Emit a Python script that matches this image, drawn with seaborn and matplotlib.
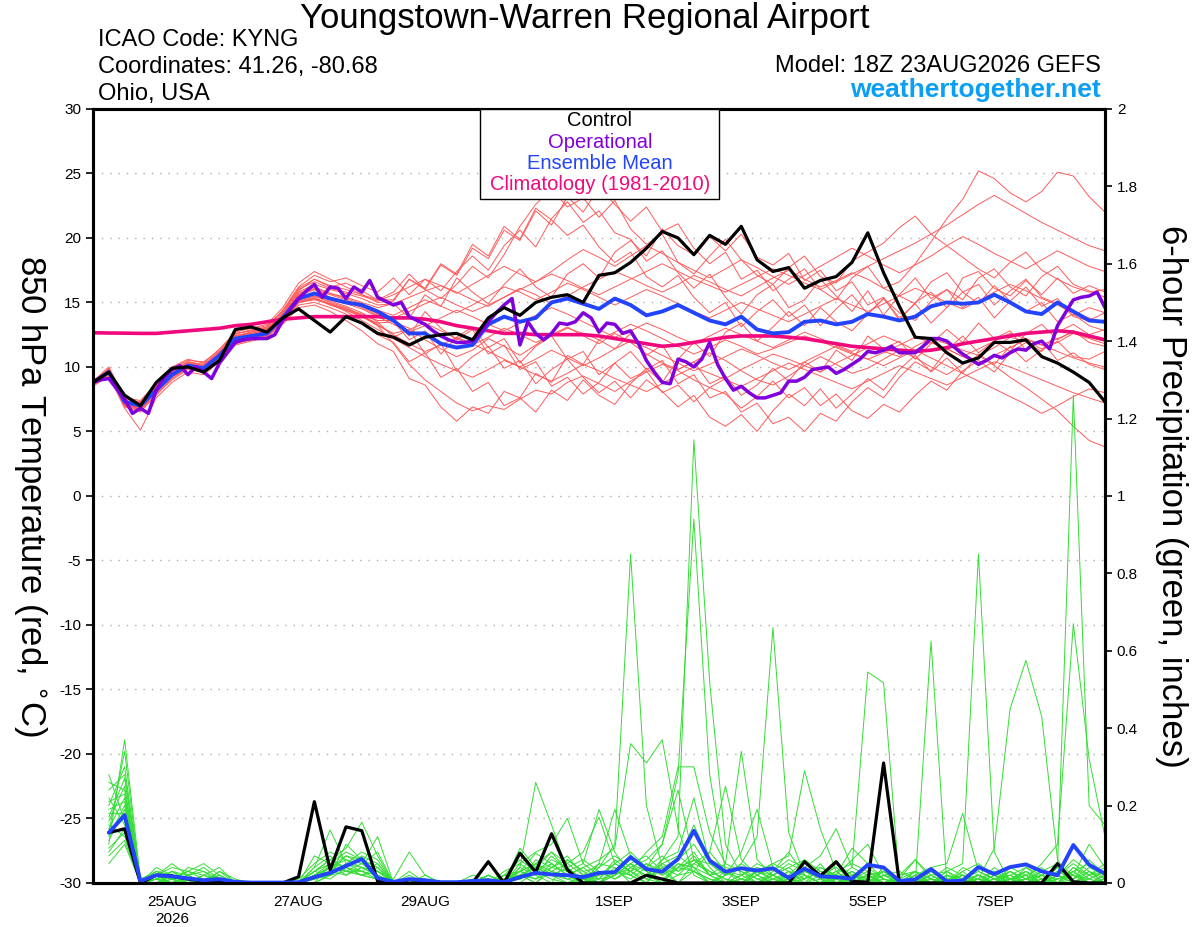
import numpy as np
import pandas as pd
import seaborn as sns
import matplotlib.pyplot as plt
from matplotlib.patches import Rectangle

# time axes
t_start = "2026-08-23 18:00"
temp_times = pd.date_range(t_start, periods=65, freq="6h")
oper_times = pd.date_range(t_start, periods=129, freq="3h")
precip_times = pd.date_range("2026-08-24 00:00", periods=64, freq="6h")

# 850 hPa temperature, control run (6-hourly)
control_temp = [8.8, 9.6, 7.8, 7.0, 8.8, 9.9, 10.0, 9.6, 10.5, 12.9, 13.1, 12.7, 13.8,
                14.5, 13.6, 12.7, 13.9, 13.4, 12.6, 12.3, 11.7, 12.3, 12.5, 12.6, 12.1,
                13.8, 14.6, 14.0, 15.0, 15.4, 15.6, 15.0, 17.1, 17.3, 18.1, 19.2, 20.5,
                20.0, 18.7, 20.2, 19.5, 20.9, 18.3, 17.4, 17.7, 16.1, 16.7, 17.0, 18.1,
                20.4, 17.3, 14.7, 12.3, 12.2, 11.1, 10.3, 10.7, 11.9, 11.9, 12.1, 10.8,
                10.3, 9.6, 8.8, 7.3]

# operational run (3-hourly)
oper_temp = [8.8, 9.0, 9.1, 8.3, 7.5, 6.4, 6.8, 6.4, 8.2, 9.2, 9.8, 10.1, 9.4, 10.0,
             9.6, 9.1, 10.3, 11.1, 11.9, 12.1, 12.2, 12.2, 12.2, 12.5, 13.6, 14.5, 15.3,
             15.9, 16.4, 15.4, 16.2, 16.1, 15.3, 16.2, 15.8, 16.7, 15.4, 15.1, 14.8, 15.0,
             13.9, 13.6, 13.3, 12.8, 12.4, 12.1, 11.9, 11.9, 12.0, 12.6, 13.5, 14.2, 14.8,
             15.3, 11.7, 13.5, 12.6, 12.1, 12.6, 13.4, 13.3, 13.5, 14.2, 13.8, 12.7, 13.4,
             13.3, 12.6, 12.8, 11.8, 10.5, 9.6, 8.8, 8.7, 10.6, 10.4, 10.0, 10.6, 11.9,
             10.2, 9.1, 8.2, 8.5, 8.0, 7.6, 7.6, 7.8, 8.0, 8.9, 8.9, 9.2, 9.8, 9.9, 10.0,
             9.5, 9.8, 10.2, 10.6, 11.2, 11.1, 11.3, 11.6, 11.1, 11.1, 11.1, 11.6, 12.2,
             12.2, 12.0, 11.5, 11.0, 10.6, 10.2, 10.5, 10.9, 10.7, 11.1, 11.4, 11.3, 11.8,
             12.0, 11.4, 13.2, 14.2, 15.2, 15.4, 15.5, 15.8, 14.6]

# ensemble mean (6-hourly)
mean_temp = [8.8, 9.6, 7.3, 7.0, 8.2, 9.4, 10.1, 9.9, 10.9, 12.2, 12.4, 12.6, 13.8, 15.3,
             15.7, 15.3, 15.0, 14.8, 14.3, 13.6, 12.6, 12.6, 11.8, 11.5, 11.7, 13.3, 13.9,
             13.5, 13.8, 15.0, 15.3, 14.9, 14.5, 15.3, 14.8, 14.0, 14.3, 14.8, 14.2, 13.6,
             13.3, 13.9, 12.9, 12.6, 12.7, 13.5, 13.6, 13.3, 13.5, 14.1, 13.9, 13.6, 13.9,
             14.7, 15.0, 14.9, 15.0, 15.6, 15.0, 14.3, 14.1, 15.0, 14.3, 13.6, 13.5]

# climatology 1981-2010
clim_temp = [12.65, 12.63, 12.62, 12.6, 12.6, 12.7, 12.8, 12.9, 13.0, 13.2, 13.3, 13.5,
             13.7, 13.8, 13.9, 13.9, 13.9, 13.9, 13.9, 13.8, 13.8, 13.7, 13.5, 13.2, 13.0,
             12.8, 12.6, 12.6, 12.5, 12.5, 12.5, 12.5, 12.4, 12.2, 12.0, 11.8, 11.6, 11.7,
             11.9, 12.1, 12.3, 12.4, 12.4, 12.4, 12.3, 12.2, 12.0, 11.8, 11.6, 11.5, 11.4,
             11.3, 11.2, 11.3, 11.5, 11.8, 12.0, 12.2, 12.4, 12.6, 12.7, 12.8, 12.7, 12.4,
             12.1]

# ensemble members, temperature
members_temp = [
    [8.6, 9.8, 7.0, 6.8, 8.0, 9.2, 10.3, 10.2, 11.2, 12.0, 12.3, 12.9, 14.2, 15.9, 16.8, 16.2, 16.5, 15.9, 15.2, 15.8, 17.2, 16.0, 15.3, 16.4, 17.8, 16.9, 18.7, 20.9, 22.6, 23.8, 22.4, 23.1, 21.6, 22.9, 20.7, 19.5, 20.3, 18.1, 17.2, 18.6, 19.9, 18.3, 17.1, 16.4, 17.7, 18.6, 17.0, 16.5, 18.2, 18.9, 19.6, 20.8, 21.7, 20.3, 19.4, 18.5, 17.6, 16.9, 18.1, 18.9, 17.5, 16.8, 16.2, 15.8, 16.0],
    [8.9, 9.5, 6.9, 6.5, 7.9, 9.0, 9.8, 9.6, 10.5, 11.8, 12.1, 12.4, 13.4, 15.0, 15.2, 14.9, 14.5, 14.0, 13.2, 11.8, 10.2, 9.0, 8.1, 7.2, 6.6, 7.0, 6.7, 7.5, 8.2, 7.9, 8.8, 9.3, 8.7, 8.1, 8.9, 9.6, 10.2, 9.7, 9.0, 8.4, 9.1, 9.8, 10.4, 11.0, 10.6, 10.1, 9.6, 10.3, 10.9, 11.5, 11.2, 10.8, 11.6, 12.2, 11.8, 11.3, 10.9, 11.5, 12.3, 12.0, 11.4, 11.9, 12.6, 12.2, 11.8],
    [8.7, 9.7, 7.2, 7.1, 8.4, 9.6, 10.0, 9.8, 10.7, 12.3, 12.6, 12.8, 13.9, 15.6, 16.0, 15.4, 15.1, 14.6, 14.0, 13.5, 13.0, 12.1, 11.4, 10.8, 11.3, 12.2, 11.6, 10.9, 11.7, 12.5, 13.1, 12.4, 11.8, 12.6, 11.9, 11.0, 10.3, 9.8, 10.4, 11.1, 10.5, 9.7, 9.0, 8.6, 9.3, 10.1, 10.8, 10.2, 9.5, 9.9, 10.6, 11.3, 10.7, 10.0, 9.4, 10.2, 10.9, 10.1, 9.2, 8.4, 7.5, 6.6, 5.4, 4.3, 3.8],
    [8.8, 9.9, 7.5, 7.3, 8.6, 9.9, 10.5, 10.4, 11.3, 12.6, 12.8, 13.0, 14.1, 15.8, 16.4, 16.0, 15.7, 15.3, 14.8, 14.9, 15.4, 15.9, 16.3, 15.8, 15.2, 14.7, 15.4, 16.1, 15.6, 14.9, 15.5, 16.2, 16.8, 17.4, 16.9, 16.3, 15.8, 16.4, 17.1, 16.6, 16.0, 15.5, 16.2, 16.9, 17.5, 16.8, 16.2, 16.7, 17.3, 16.8, 16.1, 16.6, 18.0, 19.7, 21.5, 23.0, 25.2, 24.6, 23.5, 22.8, 23.6, 25.1, 24.8, 23.2, 22.0],
    [8.6, 9.4, 7.0, 6.6, 7.8, 9.1, 9.9, 9.7, 10.6, 11.9, 12.2, 12.5, 13.6, 15.2, 15.5, 15.1, 14.7, 14.2, 13.5, 12.3, 12.9, 11.0, 11.8, 9.7, 10.8, 11.6, 9.9, 10.5, 8.7, 9.8, 10.6, 9.2, 8.0, 8.9, 7.6, 9.0, 8.1, 6.9, 7.8, 6.1, 5.4, 6.3, 5.0, 6.6, 7.9, 7.0, 8.3, 6.8, 7.9, 9.1, 8.2, 9.8, 10.9, 9.6, 10.7, 9.5, 11.0, 10.2, 11.6, 10.4, 11.3, 12.0, 10.8, 10.6, 11.2],
    [8.9, 9.8, 7.4, 7.0, 8.3, 9.5, 10.4, 10.0, 11.0, 12.4, 12.7, 13.1, 14.4, 16.2, 17.1, 16.6, 16.9, 16.3, 15.8, 16.9, 15.6, 16.8, 15.9, 17.4, 18.6, 17.5, 19.4, 20.6, 19.3, 21.5, 22.8, 21.2, 22.1, 20.4, 19.9, 18.2, 19.0, 17.3, 16.1, 17.2, 15.4, 14.1, 15.6, 16.4, 14.6, 15.2, 16.8, 15.5, 14.3, 15.9, 14.0, 15.6, 16.9, 15.3, 16.0, 14.6, 15.4, 13.8, 15.1, 16.2, 14.7, 15.3, 13.9, 13.6, 14.2],
    [8.7, 9.5, 7.1, 6.9, 8.1, 9.3, 10.0, 9.8, 10.8, 12.1, 12.3, 12.5, 13.7, 15.1, 15.4, 14.8, 14.4, 13.9, 13.2, 12.6, 12.9, 13.4, 12.8, 12.2, 11.7, 12.3, 13.0, 12.5, 11.9, 12.4, 13.0, 12.6, 12.1, 12.7, 13.3, 12.8, 12.2, 11.6, 11.0, 11.5, 12.1, 11.6, 11.0, 11.4, 11.9, 12.4, 12.0, 11.5, 11.0, 10.6, 11.1, 11.7, 12.3, 11.9, 11.4, 10.8, 10.3, 10.9, 11.5, 12.1, 11.7, 11.2, 10.7, 10.3, 10.0],
    [8.8, 9.7, 7.3, 7.2, 8.5, 9.7, 10.2, 10.1, 11.1, 12.5, 12.9, 13.2, 14.3, 16.0, 16.6, 16.1, 15.8, 15.5, 15.1, 15.6, 16.2, 16.8, 16.3, 15.7, 16.4, 17.1, 17.8, 17.2, 16.6, 17.4, 18.3, 19.1, 18.5, 17.8, 18.6, 19.4, 18.8, 18.1, 17.5, 16.9, 17.6, 18.3, 17.7, 17.0, 16.4, 17.1, 17.8, 18.5, 19.2, 18.6, 17.9, 17.3, 17.9, 18.6, 19.4, 20.1, 19.5, 18.8, 18.2, 17.6, 18.3, 19.0, 18.4, 17.8, 17.4],
    [8.6, 9.6, 7.0, 6.7, 8.0, 9.2, 10.0, 9.9, 10.8, 12.0, 12.2, 12.4, 13.5, 14.8, 15.0, 14.6, 14.1, 13.4, 12.5, 11.9, 10.4, 11.1, 9.2, 9.9, 8.1, 8.8, 7.0, 7.6, 6.5, 8.2, 7.4, 9.0, 7.8, 7.1, 8.7, 9.9, 8.8, 10.6, 11.9, 10.8, 12.7, 13.4, 12.0, 13.1, 14.3, 13.2, 14.6, 13.5, 12.8, 14.1, 15.3, 14.2, 13.6, 15.1, 16.0, 15.2, 16.9, 17.6, 16.2, 15.5, 17.0, 17.8, 16.4, 15.9, 15.4],
    [8.9, 10.0, 7.6, 7.4, 8.7, 10.0, 10.6, 10.3, 11.4, 12.7, 13.0, 13.3, 14.6, 16.5, 17.4, 16.8, 16.2, 15.6, 15.0, 15.1, 16.8, 16.0, 17.9, 17.1, 19.2, 18.4, 20.6, 19.8, 22.1, 21.0, 23.2, 22.0, 23.9, 22.6, 21.3, 22.4, 20.5, 21.1, 19.2, 18.0, 18.9, 16.8, 17.5, 15.9, 16.8, 17.6, 16.0, 15.2, 16.9, 17.8, 16.1, 15.5, 14.9, 16.6, 17.3, 15.8, 16.4, 14.8, 15.9, 16.8, 15.4, 14.9, 14.0, 14.6, 14.2],
    [8.7, 9.6, 7.2, 6.8, 8.2, 9.4, 10.1, 9.7, 10.7, 12.0, 12.3, 12.6, 13.6, 15.0, 15.3, 14.9, 14.3, 13.6, 12.9, 12.2, 11.5, 10.8, 10.2, 9.7, 9.2, 9.8, 10.5, 10.0, 9.4, 8.9, 9.5, 10.2, 9.7, 9.1, 8.6, 8.1, 8.7, 9.4, 10.0, 9.5, 9.0, 8.5, 9.1, 9.7, 10.3, 9.8, 9.3, 8.8, 8.3, 8.9, 9.5, 10.1, 9.6, 9.1, 8.6, 9.2, 9.8, 10.4, 10.0, 9.5, 9.0, 8.5, 8.0, 7.6, 7.2],
    [8.8, 9.7, 7.4, 7.1, 8.4, 9.6, 10.3, 10.1, 11.0, 12.4, 12.6, 12.9, 14.0, 15.7, 16.2, 15.7, 15.3, 14.9, 14.4, 14.0, 14.6, 15.2, 14.7, 14.2, 14.8, 15.5, 16.2, 15.8, 15.2, 15.8, 16.5, 16.0, 15.4, 14.8, 15.4, 16.0, 15.5, 14.9, 14.3, 13.8, 14.4, 15.0, 14.5, 14.0, 13.5, 14.1, 14.7, 15.3, 14.8, 14.3, 14.9, 15.5, 16.1, 15.6, 15.0, 14.5, 15.1, 15.8, 16.4, 15.9, 15.3, 14.8, 14.2, 13.8, 13.4],
    [8.5, 9.3, 6.8, 5.1, 7.6, 8.8, 9.6, 9.4, 10.4, 11.7, 12.0, 12.3, 13.3, 14.6, 14.8, 14.3, 13.6, 12.8, 11.8, 11.2, 9.1, 8.6, 6.9, 5.8, 6.9, 6.4, 8.1, 7.6, 9.5, 8.8, 10.9, 10.2, 12.1, 11.4, 12.6, 10.9, 11.7, 9.8, 10.4, 8.7, 9.3, 7.8, 8.6, 9.9, 8.9, 10.4, 9.6, 11.3, 10.5, 12.4, 11.4, 12.0, 10.6, 11.8, 12.9, 11.9, 13.4, 12.2, 12.8, 11.3, 12.0, 10.5, 11.1, 10.2, 9.8],
    [8.7, 9.8, 7.3, 7.0, 8.3, 9.5, 10.2, 10.0, 10.9, 12.3, 12.5, 12.8, 14.0, 15.5, 16.0, 15.6, 15.2, 14.7, 14.1, 13.8, 14.3, 14.9, 15.4, 14.8, 14.3, 14.8, 15.4, 16.0, 16.6, 17.2, 16.7, 16.1, 15.6, 16.2, 16.8, 17.4, 18.0, 17.4, 16.8, 16.3, 15.8, 16.4, 17.0, 17.6, 17.1, 16.5, 16.0, 16.6, 17.2, 17.8, 18.4, 19.0, 19.6, 20.3, 21.0, 21.8, 22.6, 23.3, 22.6, 21.9, 21.2, 20.6, 20.0, 19.4, 19.0],
    [8.8, 9.6, 7.2, 7.0, 8.2, 9.3, 10.0, 9.9, 10.8, 12.2, 12.4, 12.7, 13.8, 15.3, 15.6, 15.2, 14.9, 14.5, 13.9, 13.3, 12.7, 13.2, 13.8, 14.4, 13.9, 13.3, 12.8, 13.4, 14.0, 14.6, 14.1, 13.5, 12.9, 12.3, 12.8, 13.4, 12.9, 12.3, 11.8, 12.4, 13.0, 12.5, 12.0, 11.5, 12.1, 12.7, 12.2, 11.7, 11.2, 11.8, 12.4, 11.9, 11.3, 10.7, 10.1, 9.5, 8.9, 8.3, 7.7, 7.1, 6.4, 7.0, 7.7, 8.3, 8.0],
    [8.6, 9.5, 7.0, 6.7, 8.0, 9.2, 9.9, 9.6, 10.6, 11.9, 12.1, 12.4, 13.5, 15.0, 15.3, 14.8, 14.4, 13.9, 13.4, 13.5, 12.1, 12.8, 11.0, 12.3, 13.1, 11.5, 12.2, 10.3, 11.6, 12.4, 10.6, 11.2, 9.4, 10.3, 11.2, 9.8, 10.5, 8.7, 9.4, 7.6, 8.1, 6.5, 7.2, 5.6, 6.1, 5.0, 6.4, 5.8, 7.3, 8.4, 7.6, 9.2, 10.4, 9.7, 11.3, 12.4, 11.1, 12.0, 11.2, 12.6, 13.3, 12.1, 12.8, 11.9, 11.6],
    [8.8, 9.8, 7.4, 7.2, 8.5, 9.8, 10.4, 10.2, 11.2, 12.6, 12.8, 13.1, 14.3, 16.1, 16.8, 16.3, 16.0, 15.6, 15.2, 15.2, 16.8, 16.1, 18.0, 17.2, 19.5, 18.6, 20.9, 19.9, 22.3, 21.4, 20.2, 21.0, 19.3, 18.1, 18.9, 17.0, 16.2, 17.1, 15.4, 14.2, 15.0, 13.1, 14.3, 15.2, 13.9, 14.8, 13.2, 14.5, 15.6, 14.1, 15.3, 13.8, 14.9, 13.4, 14.6, 15.8, 14.9, 16.3, 15.1, 14.3, 15.0, 13.5, 14.1, 13.2, 12.8],
    [8.7, 9.4, 7.1, 6.8, 8.1, 9.3, 10.1, 9.8, 10.8, 12.1, 12.4, 12.6, 13.7, 15.2, 15.5, 15.0, 14.6, 14.0, 13.3, 12.5, 11.8, 11.2, 11.7, 12.3, 11.8, 11.2, 10.6, 10.0, 10.6, 11.3, 10.7, 10.1, 10.7, 11.4, 12.0, 11.5, 10.9, 10.3, 9.7, 10.2, 10.8, 11.4, 10.9, 10.3, 9.8, 10.4, 11.0, 11.6, 11.1, 10.6, 10.1, 10.7, 11.3, 11.9, 11.4, 10.8, 11.4, 12.0, 12.6, 12.2, 11.7, 12.2, 12.7, 12.3, 12.0],
    [8.8, 9.7, 7.3, 7.0, 8.4, 9.6, 10.2, 10.0, 11.0, 12.4, 12.7, 12.9, 14.1, 15.6, 16.1, 15.7, 15.4, 15.0, 14.6, 14.9, 13.8, 15.6, 14.7, 16.9, 15.8, 14.9, 16.4, 17.6, 16.2, 15.4, 17.2, 18.0, 16.9, 18.9, 19.8, 18.6, 20.7, 19.4, 18.7, 20.1, 19.0, 20.3, 18.5, 17.9, 18.8, 16.7, 17.5, 15.9, 16.6, 14.8, 15.4, 13.6, 15.0, 15.8, 14.6, 16.9, 17.4, 16.1, 15.5, 16.7, 15.6, 16.9, 15.7, 16.3, 15.8],
    [8.6, 9.5, 7.1, 6.9, 8.1, 9.3, 9.9, 9.7, 10.7, 12.0, 12.2, 12.5, 13.6, 15.1, 15.3, 14.9, 14.5, 14.1, 13.6, 13.6, 12.4, 14.3, 13.0, 12.1, 12.9, 11.0, 11.7, 9.8, 10.4, 8.5, 9.2, 7.9, 8.8, 10.3, 9.1, 9.7, 8.0, 8.6, 7.3, 8.4, 7.9, 6.8, 7.7, 8.9, 7.6, 8.4, 7.0, 7.9, 6.6, 6.0, 7.1, 6.5, 7.8, 8.9, 8.2, 9.7, 10.5, 9.6, 11.1, 11.9, 11.2, 12.7, 13.3, 12.5, 12.9],
]

# 6-hour precipitation, control and ensemble mean (inches)
control_precip = [0.13, 0.14, 0.0, 0.02, 0.018, 0.01, 0.005, 0.003,
                  0.0, 0.0, 0.0, 0.0, 0.016, 0.21, 0.034, 0.145,
                  0.135, 0.005, 0.0, 0.008, 0.006, 0.0, 0.0, 0.0,
                  0.055, 0.0, 0.077, 0.028, 0.127, 0.034, 0.0, 0.0,
                  0.0, 0.0, 0.02, 0.01, 0.0, 0.0, 0.0, 0.0,
                  0.0, 0.0, 0.0, 0.0, 0.055, 0.018, 0.055, 0.004,
                  0.002, 0.31, 0.0, 0.0, 0.0, 0.0, 0.0, 0.0,
                  0.0, 0.0, 0.0, 0.0, 0.05, 0.003, 0.0, 0.0]
mean_precip = [0.13, 0.175, 0.005, 0.02, 0.017, 0.012, 0.007, 0.01,
               0.003, 0.001, 0.001, 0.001, 0.002, 0.015, 0.026, 0.044,
               0.062, 0.013, 0.003, 0.01, 0.007, 0.002, 0.002, 0.005,
               0.007, 0.002, 0.015, 0.026, 0.022, 0.02, 0.015, 0.026,
               0.028, 0.067, 0.036, 0.029, 0.062, 0.135, 0.058, 0.029,
               0.038, 0.032, 0.038, 0.013, 0.037, 0.017, 0.015, 0.011,
               0.047, 0.04, 0.005, 0.009, 0.036, 0.004, 0.006, 0.041,
               0.023, 0.041, 0.048, 0.03, 0.02, 0.098, 0.047, 0.024]

# ensemble members, precipitation
members_precip = [
    [0.05, 0.10, 0.00, 0.02, 0.01, 0.00, 0.00, 0.01, 0.00, 0.00, 0.00, 0.00, 0.00, 0.02, 0.04, 0.03,
     0.05, 0.02, 0.00, 0.00, 0.01, 0.00, 0.00, 0.00, 0.01, 0.00, 0.04, 0.26, 0.15, 0.03, 0.00, 0.02,
     0.05, 0.03, 0.00, 0.06, 0.12, 1.145, 0.52, 0.10, 0.02, 0.00, 0.01, 0.03, 0.00, 0.00, 0.02, 0.01,
     0.00, 0.03, 0.00, 0.00, 0.01, 0.00, 0.00, 0.02, 0.00, 0.01, 0.03, 0.00, 0.04, 1.26, 0.20, 0.15],
    [0.08, 0.14, 0.00, 0.03, 0.02, 0.01, 0.00, 0.00, 0.00, 0.00, 0.00, 0.00, 0.00, 0.00, 0.02, 0.05,
     0.03, 0.01, 0.00, 0.00, 0.00, 0.00, 0.00, 0.00, 0.00, 0.02, 0.03, 0.01, 0.05, 0.02, 0.00, 0.04,
     0.10, 0.85, 0.20, 0.04, 0.00, 0.03, 0.01, 0.00, 0.00, 0.02, 0.04, 0.00, 0.01, 0.03, 0.00, 0.00,
     0.02, 0.00, 0.00, 0.01, 0.00, 0.03, 0.05, 0.85, 0.08, 0.00, 0.01, 0.02, 0.00, 0.03, 0.05, 0.01],
    [0.10, 0.37, 0.01, 0.00, 0.03, 0.02, 0.00, 0.00, 0.00, 0.00, 0.00, 0.00, 0.00, 0.03, 0.06, 0.04,
     0.02, 0.04, 0.00, 0.00, 0.00, 0.00, 0.00, 0.00, 0.02, 0.00, 0.05, 0.02, 0.00, 0.06, 0.03, 0.00,
     0.02, 0.05, 0.01, 0.00, 0.04, 0.08, 0.02, 0.00, 0.05, 0.12, 0.66, 0.13, 0.02, 0.00, 0.01, 0.03,
     0.00, 0.02, 0.01, 0.00, 0.00, 0.02, 0.00, 0.01, 0.09, 0.45, 0.575, 0.43, 0.06, 0.00, 0.02, 0.03],
    [0.12, 0.20, 0.00, 0.01, 0.00, 0.02, 0.04, 0.01, 0.00, 0.00, 0.00, 0.00, 0.01, 0.05, 0.08, 0.06,
     0.04, 0.02, 0.00, 0.01, 0.00, 0.00, 0.00, 0.00, 0.00, 0.01, 0.02, 0.04, 0.02, 0.01, 0.00, 0.03,
     0.01, 0.04, 0.06, 0.10, 0.28, 0.94, 0.28, 0.03, 0.01, 0.00, 0.02, 0.00, 0.04, 0.02, 0.00, 0.01,
     0.03, 0.01, 0.00, 0.02, 0.00, 0.00, 0.01, 0.00, 0.02, 0.00, 0.01, 0.05, 0.10, 0.67, 0.32, 0.12],
    [0.14, 0.22, 0.00, 0.02, 0.04, 0.03, 0.01, 0.00, 0.00, 0.00, 0.00, 0.00, 0.00, 0.01, 0.03, 0.07,
     0.06, 0.03, 0.00, 0.00, 0.00, 0.00, 0.00, 0.00, 0.01, 0.00, 0.00, 0.03, 0.06, 0.04, 0.01, 0.00,
     0.03, 0.02, 0.05, 0.03, 0.00, 0.05, 0.03, 0.01, 0.00, 0.03, 0.01, 0.02, 0.06, 0.03, 0.01, 0.04,
     0.545, 0.517, 0.00, 0.01, 0.00, 0.02, 0.01, 0.00, 0.01, 0.03, 0.00, 0.00, 0.02, 0.06, 0.03, 0.00],
    [0.15, 0.12, 0.00, 0.00, 0.01, 0.03, 0.02, 0.00, 0.00, 0.00, 0.00, 0.00, 0.00, 0.02, 0.05, 0.04,
     0.07, 0.05, 0.00, 0.02, 0.00, 0.00, 0.00, 0.00, 0.00, 0.02, 0.06, 0.03, 0.01, 0.00, 0.02, 0.05,
     0.04, 0.00, 0.02, 0.05, 0.07, 0.04, 0.00, 0.02, 0.04, 0.01, 0.00, 0.03, 0.02, 0.00, 0.03, 0.00,
     0.00, 0.01, 0.00, 0.00, 0.625, 0.00, 0.02, 0.01, 0.00, 0.02, 0.04, 0.01, 0.00, 0.02, 0.00, 0.01],
    [0.16, 0.25, 0.00, 0.04, 0.02, 0.00, 0.01, 0.02, 0.00, 0.00, 0.00, 0.00, 0.00, 0.03, 0.02, 0.05,
     0.08, 0.06, 0.00, 0.00, 0.01, 0.00, 0.00, 0.00, 0.02, 0.00, 0.03, 0.05, 0.03, 0.02, 0.04, 0.06,
     0.09, 0.36, 0.31, 0.37, 0.14, 0.02, 0.00, 0.03, 0.02, 0.04, 0.00, 0.01, 0.00, 0.04, 0.02, 0.00,
     0.01, 0.00, 0.02, 0.03, 0.00, 0.01, 0.00, 0.04, 0.02, 0.00, 0.01, 0.03, 0.05, 0.02, 0.01, 0.00],
    [0.18, 0.18, 0.00, 0.01, 0.03, 0.01, 0.00, 0.03, 0.01, 0.00, 0.00, 0.00, 0.00, 0.04, 0.07, 0.03,
     0.03, 0.02, 0.00, 0.00, 0.00, 0.00, 0.00, 0.01, 0.00, 0.01, 0.02, 0.00, 0.04, 0.07, 0.02, 0.01,
     0.06, 0.03, 0.08, 0.12, 0.30, 0.30, 0.13, 0.05, 0.34, 0.06, 0.02, 0.00, 0.03, 0.01, 0.00, 0.02,
     0.00, 0.04, 0.01, 0.00, 0.02, 0.00, 0.03, 0.00, 0.01, 0.00, 0.02, 0.04, 0.00, 0.01, 0.06, 0.02],
    [0.20, 0.30, 0.00, 0.02, 0.00, 0.04, 0.03, 0.01, 0.00, 0.00, 0.00, 0.00, 0.00, 0.01, 0.04, 0.06,
     0.05, 0.08, 0.00, 0.01, 0.00, 0.00, 0.00, 0.00, 0.01, 0.00, 0.01, 0.06, 0.04, 0.03, 0.05, 0.19,
     0.08, 0.02, 0.00, 0.04, 0.06, 0.10, 0.04, 0.00, 0.01, 0.03, 0.05, 0.07, 0.29, 0.14, 0.03, 0.00,
     0.02, 0.00, 0.01, 0.00, 0.03, 0.01, 0.00, 0.02, 0.00, 0.04, 0.02, 0.00, 0.01, 0.03, 0.00, 0.02],
    [0.22, 0.15, 0.00, 0.00, 0.02, 0.01, 0.00, 0.00, 0.00, 0.00, 0.00, 0.00, 0.00, 0.02, 0.03, 0.02,
     0.04, 0.03, 0.00, 0.00, 0.02, 0.00, 0.00, 0.00, 0.00, 0.03, 0.05, 0.08, 0.10, 0.167, 0.05, 0.02,
     0.03, 0.06, 0.04, 0.02, 0.05, 0.03, 0.08, 0.25, 0.06, 0.02, 0.00, 0.02, 0.01, 0.05, 0.00, 0.03,
     0.01, 0.00, 0.00, 0.03, 0.01, 0.04, 0.02, 0.00, 0.03, 0.01, 0.00, 0.02, 0.04, 0.00, 0.02, 0.04],
    [0.24, 0.28, 0.01, 0.03, 0.01, 0.00, 0.02, 0.04, 0.00, 0.00, 0.00, 0.00, 0.00, 0.00, 0.05, 0.08,
     0.06, 0.04, 0.00, 0.00, 0.00, 0.00, 0.00, 0.00, 0.02, 0.00, 0.04, 0.02, 0.07, 0.03, 0.00, 0.05,
     0.19, 0.07, 0.03, 0.00, 0.02, 0.06, 0.05, 0.02, 0.08, 0.19, 0.04, 0.01, 0.00, 0.02, 0.04, 0.01,
     0.00, 0.02, 0.03, 0.01, 0.00, 0.00, 0.03, 0.05, 0.02, 0.00, 0.03, 0.01, 0.00, 0.04, 0.01, 0.03],
    [0.26, 0.24, 0.00, 0.01, 0.00, 0.02, 0.03, 0.00, 0.00, 0.00, 0.00, 0.00, 0.00, 0.03, 0.06, 0.09,
     0.157, 0.07, 0.00, 0.00, 0.00, 0.00, 0.00, 0.00, 0.00, 0.01, 0.03, 0.05, 0.02, 0.04, 0.06, 0.03,
     0.02, 0.05, 0.07, 0.03, 0.06, 0.15, 0.06, 0.04, 0.03, 0.00, 0.02, 0.04, 0.06, 0.02, 0.00, 0.02,
     0.04, 0.01, 0.00, 0.02, 0.04, 0.05, 0.18, 0.03, 0.01, 0.02, 0.00, 0.03, 0.02, 0.05, 0.02, 0.00],
    [0.28, 0.16, 0.00, 0.02, 0.05, 0.02, 0.00, 0.02, 0.00, 0.00, 0.00, 0.00, 0.00, 0.04, 0.137, 0.05,
     0.04, 0.02, 0.00, 0.00, 0.00, 0.00, 0.00, 0.00, 0.01, 0.00, 0.02, 0.04, 0.08, 0.05, 0.02, 0.00,
     0.04, 0.02, 0.00, 0.05, 0.03, 0.07, 0.02, 0.00, 0.02, 0.05, 0.03, 0.06, 0.04, 0.07, 0.14, 0.04,
     0.02, 0.00, 0.01, 0.00, 0.02, 0.03, 0.00, 0.01, 0.00, 0.01, 0.02, 0.00, 0.03, 0.01, 0.04, 0.02],
    [0.13, 0.34, 0.00, 0.03, 0.02, 0.01, 0.00, 0.00, 0.00, 0.00, 0.00, 0.00, 0.00, 0.01, 0.03, 0.04,
     0.02, 0.03, 0.01, 0.08, 0.02, 0.00, 0.00, 0.00, 0.00, 0.02, 0.01, 0.03, 0.05, 0.02, 0.04, 0.01,
     0.05, 0.08, 0.04, 0.10, 0.24, 0.06, 0.03, 0.01, 0.00, 0.02, 0.05, 0.03, 0.00, 0.01, 0.03, 0.05,
     0.03, 0.00, 0.02, 0.06, 0.01, 0.00, 0.04, 0.02, 0.00, 0.03, 0.01, 0.00, 0.02, 0.00, 0.03, 0.01],
    [0.11, 0.19, 0.00, 0.01, 0.03, 0.00, 0.01, 0.00, 0.00, 0.00, 0.00, 0.00, 0.00, 0.02, 0.04, 0.07,
     0.05, 0.12, 0.00, 0.01, 0.00, 0.00, 0.00, 0.02, 0.01, 0.00, 0.03, 0.02, 0.04, 0.06, 0.03, 0.04,
     0.07, 0.04, 0.02, 0.06, 0.08, 0.22, 0.05, 0.02, 0.04, 0.03, 0.01, 0.00, 0.02, 0.00, 0.05, 0.02,
     0.01, 0.03, 0.00, 0.02, 0.00, 0.01, 0.02, 0.00, 0.02, 0.00, 0.04, 0.02, 0.01, 0.03, 0.00, 0.02],
    [0.09, 0.13, 0.00, 0.00, 0.01, 0.02, 0.00, 0.01, 0.00, 0.00, 0.00, 0.00, 0.00, 0.00, 0.02, 0.10,
     0.06, 0.04, 0.00, 0.00, 0.00, 0.00, 0.00, 0.00, 0.00, 0.01, 0.02, 0.00, 0.03, 0.01, 0.02, 0.03,
     0.01, 0.03, 0.05, 0.02, 0.04, 0.03, 0.01, 0.00, 0.02, 0.04, 0.02, 0.05, 0.03, 0.04, 0.02, 0.06,
     0.10, 0.02, 0.00, 0.01, 0.03, 0.00, 0.01, 0.03, 0.01, 0.02, 0.00, 0.01, 0.03, 0.02, 0.00, 0.01],
    [0.17, 0.27, 0.00, 0.02, 0.01, 0.03, 0.05, 0.02, 0.00, 0.00, 0.00, 0.00, 0.00, 0.07, 0.05, 0.03,
     0.02, 0.01, 0.00, 0.00, 0.00, 0.00, 0.00, 0.00, 0.02, 0.00, 0.09, 0.04, 0.02, 0.00, 0.01, 0.02,
     0.03, 0.01, 0.04, 0.07, 0.03, 0.05, 0.08, 0.03, 0.01, 0.00, 0.03, 0.08, 0.02, 0.00, 0.01, 0.00,
     0.02, 0.00, 0.01, 0.03, 0.00, 0.02, 0.00, 0.01, 0.03, 0.00, 0.00, 0.02, 0.00, 0.04, 0.02, 0.05],
    [0.19, 0.21, 0.00, 0.01, 0.02, 0.00, 0.02, 0.01, 0.00, 0.00, 0.00, 0.00, 0.00, 0.02, 0.01, 0.04,
     0.03, 0.05, 0.00, 0.00, 0.01, 0.00, 0.00, 0.00, 0.00, 0.02, 0.01, 0.05, 0.08, 0.03, 0.01, 0.00,
     0.02, 0.04, 0.02, 0.00, 0.05, 0.04, 0.02, 0.05, 0.03, 0.01, 0.02, 0.00, 0.03, 0.02, 0.01, 0.03,
     0.00, 0.02, 0.00, 0.03, 0.01, 0.00, 0.02, 0.00, 0.04, 0.01, 0.02, 0.00, 0.01, 0.02, 0.10, 0.04],
    [0.07, 0.11, 0.00, 0.02, 0.00, 0.01, 0.00, 0.00, 0.00, 0.00, 0.00, 0.00, 0.00, 0.01, 0.02, 0.03,
     0.02, 0.01, 0.00, 0.03, 0.00, 0.00, 0.00, 0.00, 0.01, 0.00, 0.02, 0.01, 0.03, 0.05, 0.08, 0.17,
     0.05, 0.03, 0.01, 0.04, 0.02, 0.03, 0.00, 0.02, 0.05, 0.02, 0.00, 0.01, 0.03, 0.02, 0.00, 0.01,
     0.02, 0.03, 0.01, 0.06, 0.02, 0.00, 0.01, 0.02, 0.00, 0.03, 0.01, 0.00, 0.02, 0.01, 0.03, 0.00],
    [0.21, 0.23, 0.00, 0.00, 0.02, 0.01, 0.00, 0.03, 0.00, 0.00, 0.00, 0.00, 0.00, 0.03, 0.05, 0.02,
     0.04, 0.03, 0.00, 0.00, 0.00, 0.00, 0.00, 0.00, 0.00, 0.01, 0.03, 0.077, 0.05, 0.02, 0.00, 0.01,
     0.02, 0.05, 0.03, 0.01, 0.04, 0.06, 0.02, 0.03, 0.00, 0.03, 0.02, 0.04, 0.01, 0.03, 0.02, 0.09,
     0.05, 0.01, 0.00, 0.02, 0.00, 0.03, 0.01, 0.00, 0.02, 0.01, 0.03, 0.00, 0.02, 0.00, 0.01, 0.03],
]

tick_dates = ["2026-08-25", "2026-08-27", "2026-08-29", "2026-09-01",
              "2026-09-03", "2026-09-05", "2026-09-07"]
tick_labels = ["25AUG\n2026", "27AUG", "29AUG", "1SEP", "3SEP", "5SEP", "7SEP"]

legend_labels = ["Control", "Operational", "Ensemble Mean", "Climatology (1981-2010)"]
legend_colors = ["black", "#8000dd", "#2244ff", "#f0087c"]

# long tables for seaborn
temp_df = pd.DataFrame({
    "time": np.tile(temp_times, len(members_temp)),
    "temp": np.concatenate(members_temp),
    "member": np.repeat(np.arange(len(members_temp)), len(temp_times)),
})
precip_df = pd.DataFrame({
    "time": np.tile(precip_times, len(members_precip)),
    "precip": np.concatenate(members_precip),
    "member": np.repeat(np.arange(len(members_precip)), len(precip_times)),
})

sns.set_style("white")
plt.rcParams["font.family"] = ["Liberation Sans", "DejaVu Sans"]
plt.rcParams["text.color"] = "black"
plt.rcParams["axes.labelcolor"] = "black"
plt.rcParams["xtick.color"] = "black"
plt.rcParams["ytick.color"] = "black"

fig = plt.figure(figsize=(12, 9.27), dpi=100)
ax = fig.add_axes([0.0775, 0.0475, 0.8433, 0.835])
ax2 = ax.twinx()

# temperature
sns.lineplot(data=temp_df, x="time", y="temp", units="member", estimator=None,
             color="#ff5a5a", lw=0.7, ax=ax, legend=False)
sns.lineplot(x=temp_times, y=clim_temp, color="#f0087c", lw=2.6, ax=ax)
sns.lineplot(x=temp_times, y=mean_temp, color="#2244ff", lw=2.8, ax=ax)
sns.lineplot(x=oper_times, y=oper_temp, color="#8000dd", lw=2.5, ax=ax)
sns.lineplot(x=temp_times, y=control_temp, color="black", lw=2.3, ax=ax)

# precipitation
sns.lineplot(data=precip_df, x="time", y="precip", units="member", estimator=None,
             color="#33dd33", lw=0.7, ax=ax2, legend=False)
sns.lineplot(x=precip_times, y=control_precip, color="black", lw=2.3, ax=ax2)
sns.lineplot(x=precip_times, y=mean_precip, color="#2244ff", lw=2.8, ax=ax2)

ax.set_xlim(pd.Timestamp("2026-08-23 18:00"), pd.Timestamp("2026-09-08 18:00"))
ax.set_ylim(-30, 30)
ax2.set_ylim(0, 2)
ax.set_yticks(np.arange(-30, 31, 5))
ax.set_yticklabels([str(v) for v in range(-30, 31, 5)])
ax2.set_yticks(np.arange(0, 2.01, 0.2))
ax2.set_yticklabels(["0", "0.2", "0.4", "0.6", "0.8", "1", "1.2", "1.4", "1.6", "1.8", "2"])
ax.set_xticks([pd.Timestamp(d) for d in tick_dates])
ax.set_xticklabels(tick_labels)

for y in range(-25, 30, 5):
    ax.axhline(y, color="#aaaaaa", lw=1.0, ls=(0, (1, 5)), zorder=0)

for a in (ax, ax2):
    for s in a.spines.values():
        s.set_linewidth(2.2)
        s.set_color("black")
    a.tick_params(direction="out", length=5, width=1.2, labelsize=11, colors="black")
    a.set_xlabel("")
ax.tick_params(axis="x", pad=4)

ax.set_ylabel("850 hPa Temperature (red, $^{\\circ}$C)", fontsize=25, rotation=-90,
              va="center", ha="center")
ax.yaxis.set_label_coords(-0.062, 0.5)
ax2.set_ylabel("6-hour Precipitation (green, inches)", fontsize=25, rotation=-90,
               va="center", ha="center")
ax2.yaxis.set_label_coords(1.066, 0.5)

# legend box (text only, centred)
fig.add_artist(Rectangle((480 / 1200, 1 - 199 / 927), 239 / 1200, 90 / 927,
                         transform=fig.transFigure, facecolor="white",
                         edgecolor="black", lw=1.0, zorder=5))
for k, (lab, col) in enumerate(zip(legend_labels, legend_colors)):
    fig.text(600 / 1200, 1 - (121 + 21.3 * k) / 927, lab, color=col, fontsize=14.5,
             ha="center", va="center", zorder=6)

# header text
fig.text(585 / 1200, 1 - 28 / 927, "Youngstown-Warren Regional Airport", fontsize=25,
         ha="center", va="baseline")
fig.text(98 / 1200, 1 - 46 / 927, "ICAO Code: KYNG", fontsize=17, va="baseline")
fig.text(98 / 1200, 1 - 73 / 927, "Coordinates: 41.26, -80.68", fontsize=17, va="baseline")
fig.text(98 / 1200, 1 - 100 / 927, "Ohio, USA", fontsize=17, va="baseline")
fig.text(1101 / 1200, 1 - 72 / 927, "Model: 18Z 23AUG2026 GEFS", fontsize=17,
         ha="right", va="baseline")
fig.text(1101 / 1200, 1 - 97 / 927, "weathertogether.net", fontsize=19, ha="right",
         va="baseline", color="#0a9ff5", fontweight="bold")

fig.savefig("out.png", dpi=100)
